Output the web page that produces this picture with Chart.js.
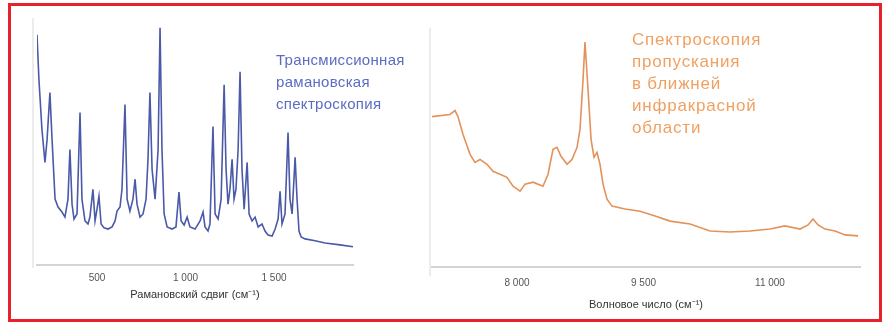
<!DOCTYPE html>
<html>
<head>
<meta charset="utf-8">
<script src="https://cdn.jsdelivr.net/npm/chart.js@4/dist/chart.umd.min.js"></script>
<style>
  html, body { margin: 0; padding: 0; background: #fff; width: 882px; height: 323px; overflow: hidden; }
  #frame { position: absolute; left: 8px; top: 3px; width: 874px; height: 319px; box-sizing: border-box; border: 3px solid #e8222c; }
  .wrap { position: absolute; }
  .note { position: absolute; font-family: "Liberation Sans", Arial, sans-serif; line-height: 22px; white-space: nowrap; }
  .edge { position: absolute; width: 2px; background: #ececec; }
</style>
</head>
<body>
<div class="edge" style="left:32px; top:18px; height:250px;"></div>
<div class="edge" style="left:429px; top:28px; height:248px;"></div>
<div class="wrap" style="left:20px; top:15px; width:350px; height:295px;"><canvas id="canvasRaman"></canvas></div>
<div class="wrap" style="left:420px; top:15px; width:455px; height:300px;"><canvas id="canvasNir"></canvas></div>
<div class="note" style="left:276px; top:49px; color:#5b6cc2; font-size:15px; letter-spacing:0.3px;">Трансмиссионная<br>рамановская<br>спектроскопия</div>
<div class="note" style="left:632px; top:29px; color:#f0a162; font-size:17px; letter-spacing:0.8px;">Спектроскопия<br>пропускания<br>в ближней<br>инфракрасной<br>области</div>
<div id="frame"></div>
<script>
//raman spectrum (shift, intensity)
var ramanShift = [161, 172, 189, 206, 218, 234, 246, 263, 280, 302, 319, 336, 347, 359, 370, 387, 404, 415, 432, 449,
  460, 477, 489, 500, 511, 523, 540, 562, 585, 602, 613, 630, 641, 658, 670, 686, 703, 715, 726, 743,
  760, 777, 788, 799, 811, 828, 845, 856, 867, 879, 896, 924, 946, 963, 975, 992, 1009, 1025, 1054, 1082,
  1099, 1110, 1127, 1138, 1155, 1167, 1184, 1201, 1218, 1229, 1240, 1251, 1263, 1274, 1285, 1297, 1308, 1319, 1331, 1348,
  1359, 1376, 1393, 1410, 1432, 1449, 1466, 1489, 1506, 1523, 1534, 1545, 1562, 1579, 1590, 1602, 1619, 1630, 1641, 1653,
  1675, 1732, 1788, 1873, 1946];
var ramanIntensity = [95.9, 77.2, 56.4, 42.7, 52.3, 71.8, 52.3, 27.4, 24.1, 22.0, 19.9, 27.4, 48.1, 25.3, 19.1, 21.2, 63.5, 27.4, 18.3, 17.0,
  19.9, 31.5, 18.3, 23.2, 28.6, 17.0, 15.4, 14.9, 15.8, 18.3, 22.4, 24.1, 31.5, 66.8, 27.4, 22.4, 27.4, 35.7, 25.3, 19.9,
  21.2, 27.4, 44.0, 71.8, 39.8, 27.4, 48.1, 98.8, 48.1, 21.2, 15.8, 14.9, 15.8, 30.3, 18.3, 16.6, 19.9, 15.8, 14.9, 18.3,
  22.0, 15.8, 14.1, 17.0, 57.7, 21.2, 19.1, 27.4, 75.1, 39.8, 25.3, 31.5, 44.0, 27.4, 31.5, 48.1, 80.5, 39.8, 23.2, 42.7,
  21.2, 18.3, 19.9, 15.8, 17.0, 14.1, 12.4, 12.0, 14.9, 19.1, 30.7, 17.0, 21.2, 55.2, 27.4, 21.2, 44.8, 27.4, 14.1, 11.6,
  10.8, 10.0, 9.1, 8.3, 7.5];
var ramanTicks = [500, 1000, 1500];

//nir spectrum (wavenumber, transmission)
var nirWavenumber = [6992, 7205, 7265, 7300, 7360, 7443, 7502, 7561, 7644, 7715, 7798, 7881, 7953, 8036, 8095, 8190, 8308, 8368, 8427, 8474,
  8522, 8593, 8652, 8712, 8747, 8783, 8806, 8842, 8878, 8913, 8949, 8984, 9020, 9067, 9127, 9281, 9459, 9637, 9815, 10052,
  10289, 10526, 10763, 11000, 11178, 11356, 11451, 11510, 11570, 11653, 11771, 11890, 12044];
var nirValue = [62.1, 63.0, 64.6, 62.1, 54.7, 46.5, 43.2, 44.4, 42.4, 39.5, 38.3, 37.0, 33.3, 31.3, 34.2, 35.0, 33.3, 38.3, 48.6, 49.4,
  45.7, 42.4, 44.4, 49.4, 56.8, 77.4, 93.0, 73.3, 52.7, 45.3, 47.3, 42.4, 34.2, 28.0, 25.1, 23.9, 23.0, 21.0, 18.9, 17.7,
  14.8, 14.4, 14.8, 15.6, 16.9, 15.6, 17.3, 19.8, 17.3, 15.6, 14.8, 13.2, 12.8];
var nirTicks = [8000, 9500, 11000];

//format numbers like "1 000"
function spaced(v) {
  return String(v).replace(/\B(?=(\d{3})+(?!\d))/g, ' ');
}

function toPoints(xs, ys) {
  return xs.map((x, i) => ({ x: x, y: ys[i] }));
}

function drawSpectrum(id, xs, ys, ticks, xmin, xmax, color, title, tickPad, titlePad, padding) {
  var scales = {
    x: {
      type: 'linear',
      min: xmin,
      max: xmax,
      afterBuildTicks: (axis) => { axis.ticks = ticks.map((v) => ({ value: v })); },
      grid: { display: false, drawTicks: false },
      border: { display: true, color: '#d4d4d4', width: 2 },
      ticks: {
        padding: tickPad,
        color: '#555',
        font: { family: 'Liberation Sans', size: 10 },
        callback: (v) => spaced(v)
      },
      title: {
        display: true,
        text: title,
        color: '#333',
        padding: { top: titlePad, bottom: 0 },
        font: { family: 'Liberation Sans', size: 11 }
      }
    },
    y: {
      display: false,
      min: 0,
      max: 100
    }
  };

  var config = {
    type: 'line',
    data: {
      datasets: [{
        data: toPoints(xs, ys),
        borderColor: color,
        borderWidth: 1.6,
        pointRadius: 0,
        tension: 0,
        fill: false
      }]
    },
    options: {
      responsive: true,
      maintainAspectRatio: false,
      animation: false,
      layout: { padding: padding },
      plugins: { legend: { display: false }, tooltip: { enabled: false } },
      scales: scales
    }
  };

  return new Chart(document.getElementById(id), config);
}

//left: raman
drawSpectrum('canvasRaman', ramanShift, ramanIntensity, ramanTicks, 161, 1946, '#4a59a8',
  'Рамановский сдвиг (см⁻¹)', 7, -2, { left: 17, right: 17, top: 10, bottom: 8 });

//right: nir
drawSpectrum('canvasNir', nirWavenumber, nirValue, nirTicks, 6992, 12067, '#e3925a',
  'Волновое число (см⁻¹)', 10, 0, { left: 12, right: 15, top: 10, bottom: 3 });
</script>
</body>
</html>
